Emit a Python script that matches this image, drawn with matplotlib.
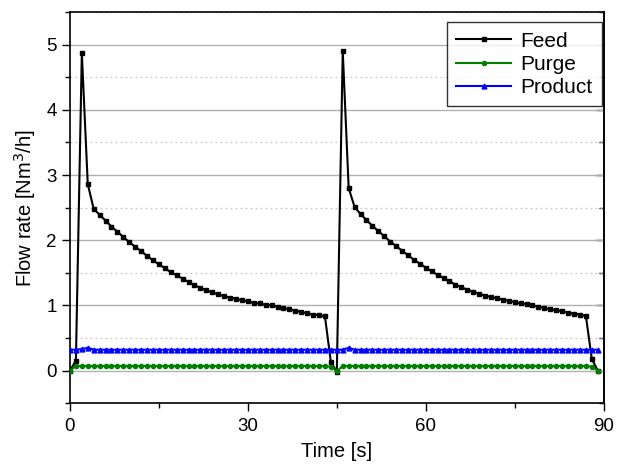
import matplotlib
matplotlib.use("Agg")
import matplotlib.pyplot as plt
from matplotlib.ticker import MultipleLocator

plt.rcParams['font.family'] = ['Liberation Sans', 'DejaVu Sans']

time = list(range(0, 90))

feed_cycle1 = [0.00, 0.15, 4.87, 2.86, 2.48, 2.39, 2.30, 2.21, 2.13, 2.05,
               1.97, 1.90, 1.83, 1.76, 1.69, 1.63, 1.57, 1.51, 1.46, 1.41,
               1.36, 1.31, 1.27, 1.23, 1.20, 1.17, 1.14, 1.12, 1.10, 1.08,
               1.06, 1.04, 1.03, 1.01, 1.00, 0.98, 0.96, 0.94, 0.92, 0.90,
               0.88, 0.86, 0.85, 0.83]
feed_cycle2 = [0.13, -0.02, 4.90, 2.80, 2.51, 2.40, 2.31, 2.22, 2.14, 2.06,
               1.98, 1.91, 1.84, 1.77, 1.70, 1.64, 1.58, 1.52, 1.47, 1.42,
               1.37, 1.32, 1.28, 1.24, 1.21, 1.18, 1.15, 1.13, 1.11, 1.09,
               1.07, 1.05, 1.03, 1.02, 1.00, 0.98, 0.96, 0.94, 0.93, 0.91,
               0.89, 0.87, 0.86, 0.84, 0.18, 0.00]
feed = feed_cycle1 + feed_cycle2

purge = ([0.00] + [0.07] * 43 + [0.06, -0.01] + [0.07] * 42 + [0.06, 0.00])
product = ([0.32, 0.32, 0.33, 0.35] + [0.32] * 43 + [0.35] + [0.32] * 42)

fig = plt.figure(figsize=(6.22, 4.65), dpi=100)
ax = fig.add_axes([0.1125, 0.133, 0.858, 0.841])

ax.plot(time, feed, color='black', lw=1.5, marker='s', ms=3.2, label='Feed', zorder=3)
ax.plot(time, purge, color='#008000', lw=1.5, marker='o', ms=3, label='Purge', zorder=3)
ax.plot(time, product, color='#0000ff', lw=1.5, marker='^', ms=3.5, label='Product', zorder=3)

ax.set_xlim(0, 90)
ax.set_ylim(-0.5, 5.5)
ax.xaxis.set_major_locator(MultipleLocator(30))
ax.xaxis.set_minor_locator(MultipleLocator(15))
ax.yaxis.set_major_locator(MultipleLocator(1))
ax.yaxis.set_minor_locator(MultipleLocator(0.5))

ax.grid(axis='y', which='major', color='#b0b0b0', lw=1.0, ls='-')
ax.grid(axis='y', which='minor', color='#c8c8c8', lw=0.9, ls=(0, (1.5, 2.5)))
ax.set_axisbelow(True)

ax.tick_params(axis='both', which='major', direction='out', length=6, width=1,
               labelsize=13.5, colors='black')
ax.tick_params(axis='x', which='major', pad=5)
ax.tick_params(axis='both', which='minor', direction='out', length=3.5, width=1)
for s in ax.spines.values():
    s.set_linewidth(1.2)

sec = ax.secondary_yaxis('right')
sec.yaxis.set_major_locator(MultipleLocator(1))
sec.yaxis.set_minor_locator(MultipleLocator(0.5))
sec.tick_params(which='major', direction='in', length=6, width=1, labelright=False)
sec.tick_params(which='minor', direction='in', length=3.5, width=1)
sec.spines['right'].set_linewidth(1.2)

ax.set_xlabel('Time [s]', fontsize=14.5, labelpad=5)
ax.set_ylabel('Flow rate [Nm$^3$/h]', fontsize=14.5, labelpad=6)

leg = ax.legend(loc='upper right', fontsize=15, frameon=True, fancybox=False,
                edgecolor='black', handlelength=2.6, borderpad=0.45,
                labelspacing=0.2, handletextpad=0.45, borderaxespad=0,
                bbox_to_anchor=(0.996, 0.974))
leg.get_frame().set_linewidth(1.0)

fig.savefig('out.png', dpi=100)
